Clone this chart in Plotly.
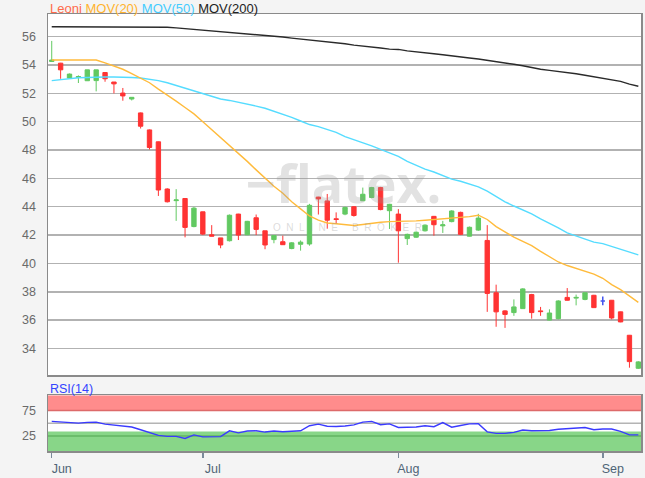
import plotly.graph_objects as go
import pandas as pd

# ---------------- data ----------------
dates = [d.strftime("%Y-%m-%d") for d in pd.bdate_range("2018-06-07", "2018-09-07")]

open_ = [54.25, 54.13, 53.08, 53.12, 52.89, 52.90, 53.47, 52.80, 52.02, 51.60,
         50.62, 49.42, 48.58, 45.25, 44.43, 44.58, 42.60, 43.64, 42.02, 41.80,
         41.60, 43.48, 42.02, 43.22, 42.30, 41.68, 41.53, 41.05, 41.35, 41.37,
         44.68, 44.41, 43.15, 43.48, 44.00, 44.42, 44.65, 45.35, 43.72, 43.48,
         41.75, 41.85, 42.30, 43.32, 42.65, 42.95, 43.60, 41.92, 42.35, 41.62,
         37.93, 36.65, 36.53, 36.81, 37.80, 36.65, 36.00, 36.10, 37.60, 37.55,
         37.46, 37.75, 37.35, 37.40, 36.58, 34.93, 32.60]
high = [55.70, 54.15, 53.40, 53.27, 53.66, 53.66, 53.50, 52.80, 52.38, 51.72,
        50.65, 49.45, 48.60, 45.30, 45.24, 44.60, 43.99, 43.65, 42.70, 41.80,
        43.45, 43.50, 43.00, 43.45, 42.30, 42.00, 41.96, 41.50, 41.62, 44.20,
        44.70, 44.90, 43.60, 44.00, 44.05, 45.35, 45.40, 45.40, 44.20, 43.83,
        42.10, 42.25, 42.75, 43.35, 43.00, 43.75, 43.65, 42.60, 43.50, 42.70,
        38.50, 36.70, 37.46, 38.25, 37.85, 36.93, 36.76, 37.40, 38.26, 37.80,
        37.95, 37.78, 37.67, 37.42, 36.60, 34.95, 33.10]
low = [54.25, 53.03, 53.03, 52.73, 52.89, 52.14, 52.82, 52.00, 51.48, 51.50,
       49.52, 48.04, 44.76, 44.30, 43.00, 41.84, 42.55, 42.00, 41.90, 41.07,
       41.55, 41.65, 42.00, 42.00, 41.00, 41.42, 41.30, 41.00, 40.90, 41.25,
       43.45, 42.45, 42.80, 43.40, 43.30, 44.40, 44.60, 43.75, 42.43, 40.05,
       41.30, 41.80, 42.25, 41.96, 42.15, 42.90, 42.00, 41.90, 42.30, 36.58,
       35.53, 35.45, 36.30, 36.80, 36.10, 36.30, 35.98, 36.05, 37.38, 37.04,
       37.40, 36.85, 37.04, 36.05, 35.85, 32.64, 32.55]
close = [54.35, 53.66, 53.36, 53.18, 53.66, 53.66, 53.03, 52.67, 51.82, 51.72,
         49.68, 48.18, 45.18, 44.35, 44.48, 42.54, 43.90, 42.07, 41.92, 41.30,
         43.40, 42.00, 42.97, 42.40, 41.30, 41.97, 41.32, 41.45, 41.50, 44.10,
         44.55, 43.05, 43.10, 43.95, 43.38, 44.88, 45.35, 43.80, 44.17, 42.30,
         42.05, 42.20, 42.70, 42.73, 42.72, 43.70, 42.05, 42.55, 43.20, 37.88,
         36.58, 36.40, 36.93, 38.20, 36.53, 36.60, 36.50, 37.35, 37.40, 37.60,
         37.93, 36.88, 37.35, 36.15, 35.87, 33.07, 33.05]

mov20 = [54.35, 54.35, 54.35, 54.35, 54.35, 54.35, 54.15, 53.95, 53.70, 53.40,
         53.10, 52.75, 52.30, 51.90, 51.45, 51.00, 50.55, 50.00, 49.45, 48.85,
         48.30, 47.75, 47.20, 46.60, 46.00, 45.45, 44.95, 44.35, 43.85, 43.35,
         43.05, 42.85, 42.80, 42.75, 42.68, 42.75, 42.85, 42.90, 42.95, 42.95,
         43.00, 43.00, 43.05, 43.10, 43.12, 43.15, 43.20, 43.30, 43.40, 43.10,
         42.60, 42.20, 41.85, 41.55, 41.25, 40.85, 40.50, 40.10, 39.85, 39.65,
         39.50, 39.25, 38.95, 38.50, 38.15, 37.70, 37.25]
mov50 = [52.90, 52.98, 53.05, 53.10, 53.12, 53.15, 53.15, 53.15, 53.15, 53.12,
         53.08, 53.00, 52.90, 52.75, 52.55, 52.35, 52.15, 51.95, 51.78, 51.60,
         51.50, 51.38, 51.25, 51.10, 50.95, 50.75, 50.50, 50.30, 50.05, 49.80,
         49.65, 49.45, 49.25, 48.95, 48.75, 48.55, 48.30, 48.05, 47.80, 47.55,
         47.20, 46.90, 46.65, 46.45, 46.20, 45.95, 45.80, 45.60, 45.40, 45.10,
         44.70, 44.35, 44.05, 43.80, 43.50, 43.15, 42.85, 42.50, 42.15, 41.95,
         41.75, 41.50, 41.40, 41.20, 41.05, 40.85, 40.60]
mov200 = [56.70, 56.70, 56.70, 56.70, 56.70, 56.70, 56.70, 56.70, 56.70, 56.70,
          56.70, 56.70, 56.70, 56.66, 56.62, 56.57, 56.50, 56.46, 56.42, 56.36,
          56.30, 56.26, 56.22, 56.14, 56.08, 56.03, 55.98, 55.90, 55.84, 55.76,
          55.70, 55.64, 55.57, 55.50, 55.40, 55.35, 55.30, 55.20, 55.12, 55.10,
          55.00, 54.95, 54.88, 54.80, 54.72, 54.66, 54.60, 54.50, 54.42, 54.34,
          54.25, 54.15, 54.05, 53.95, 53.82, 53.70, 53.62, 53.55, 53.47, 53.38,
          53.28, 53.18, 53.08, 52.95, 52.85, 52.65, 52.50]
rsi14 = [53.5, 52.0, 51.0, 50.0, 51.5, 52.0, 48.0, 46.0, 44.0, 42.5,
         37.0, 31.0, 26.0, 24.0, 24.0, 20.0, 27.0, 23.0, 23.0, 23.5,
         35.0, 31.0, 34.5, 35.0, 32.5, 34.5, 33.0, 33.5, 35.0, 45.0,
         48.0, 44.0, 43.5, 44.5, 46.5, 52.0, 53.5, 47.0, 48.5, 41.5,
         41.5, 42.5, 45.0, 43.0, 51.0, 42.0, 45.5, 48.5, 49.0, 33.0,
         30.0, 30.0, 32.0, 36.5, 35.0, 35.0, 35.5, 38.0, 39.0, 39.5,
         41.5, 37.0, 38.5, 38.5, 34.0, 27.0, 27.0]

month_ticks = ["2018-06-07", "2018-07-02", "2018-08-01", "2018-09-03"]
month_labels = ["Jun", "Jul", "Aug", "Sep"]
price_ticks = [34, 36, 38, 40, 42, 44, 46, 48, 50, 52, 54, 56]
rsi_ticks = [25, 75]

# ---------------- styles ----------------
FONT = "Liberation Sans, Arial, sans-serif"
GREEN = "#62c962"
RED = "#ff3333"
BLUE = "#4455ee"

flat_idx = [i for i in range(len(dates)) if open_[i] == close[i]]
move_idx = [i for i in range(len(dates)) if open_[i] != close[i]]

def pick(arr, idx):
    return [arr[i] for i in idx]

fig = go.Figure()

# moving averages
fig.add_trace(go.Scatter(x=dates, y=mov200, mode="lines", line=dict(color="#2a2a2a", width=1.4),
                         xaxis="x", yaxis="y", hoverinfo="skip"))
fig.add_trace(go.Scatter(x=dates, y=mov50, mode="lines", line=dict(color="#55dcff", width=1.4),
                         xaxis="x", yaxis="y", hoverinfo="skip"))
fig.add_trace(go.Scatter(x=dates, y=mov20, mode="lines", line=dict(color="#ffbb3c", width=1.4),
                         xaxis="x", yaxis="y", hoverinfo="skip"))

# candles
fig.add_trace(go.Candlestick(
    x=pick(dates, move_idx), open=pick(open_, move_idx), high=pick(high, move_idx),
    low=pick(low, move_idx), close=pick(close, move_idx),
    increasing=dict(line=dict(color=GREEN, width=1), fillcolor=GREEN),
    decreasing=dict(line=dict(color=RED, width=1), fillcolor=RED),
    whiskerwidth=0, xaxis="x", yaxis="y"))
fig.add_trace(go.Candlestick(
    x=pick(dates, flat_idx), open=pick(open_, flat_idx), high=pick(high, flat_idx),
    low=pick(low, flat_idx), close=pick(close, flat_idx),
    increasing=dict(line=dict(color=BLUE, width=1.5), fillcolor=BLUE),
    decreasing=dict(line=dict(color=BLUE, width=1.5), fillcolor=BLUE),
    whiskerwidth=0, xaxis="x", yaxis="y"))

# RSI
fig.add_trace(go.Scatter(x=dates, y=rsi14, mode="lines", line=dict(color="#3a3aff", width=1.4),
                         xaxis="x2", yaxis="y2", hoverinfo="skip"))

shapes = [
    dict(type="rect", xref="x2 domain", yref="y2", x0=0, x1=1, y0=74.5, y1=104.7,
         fillcolor="#ff8c8c", line=dict(width=0), layer="below"),
    dict(type="rect", xref="x2 domain", yref="y2", x0=0, x1=1, y0=-4.6, y1=33.7,
         fillcolor="#88d688", line=dict(width=0), layer="below"),
    dict(type="line", xref="x2 domain", yref="y2", x0=0, x1=1, y0=75, y1=75,
         line=dict(color="#dd6a6a", width=1.5), layer="below"),
    dict(type="line", xref="x2 domain", yref="y2", x0=0, x1=1, y0=25, y1=25,
         line=dict(color="#62b462", width=1.5), layer="below"),
    dict(type="line", xref="x2 domain", yref="y2", x0=0, x1=1, y0=50, y1=50,
         line=dict(color="#b4b4b4", width=1.5), layer="below"),
]

annotations = [
    dict(xref="paper", yref="paper", x=0, y=1.0137, xanchor="left", yanchor="middle",
         showarrow=False, font=dict(family=FONT, size=13),
         text="<span style='color:#ff6a4a'>Leoni</span> "
              "<span style='color:#ffb32e'>MOV(20)</span> "
              "<span style='color:#44ccff'>MOV(50)</span> "
              "<span style='color:#222222'>MOV(200)</span>"),
    dict(xref="paper", yref="paper", x=0, y=0.142, xanchor="left", yanchor="middle",
         showarrow=False, font=dict(family=FONT, size=12.5, color="#3344ff"), text="RSI(14)"),
    dict(xref="paper", yref="paper", x=0.499, y=0.614, xanchor="center", yanchor="middle",
         showarrow=False, font=dict(family="Open Sans, sans-serif", size=52, color="rgba(150,150,150,0.28)", weight="bold"),
         text="\u2212flatex."),
    dict(xref="paper", yref="paper", x=0.505, y=0.512, xanchor="center", yanchor="middle",
         showarrow=False, font=dict(family=FONT, size=10, color="rgba(150,150,150,0.35)"),
         text="O\u00a0\u00a0N\u00a0\u00a0L\u00a0\u00a0I\u00a0\u00a0N\u00a0\u00a0E\u00a0\u00a0\u00a0\u00a0\u00a0B\u00a0\u00a0R\u00a0\u00a0O\u00a0\u00a0K\u00a0\u00a0E\u00a0\u00a0R"),
]

fig.update_layout(
    width=645, height=478,
    margin=dict(l=48, r=2, t=14, b=25),
    paper_bgcolor="#f4f4f4", plot_bgcolor="#ffffff",
    showlegend=False,
    font=dict(family=FONT, size=12, color="#666666"),
    shapes=shapes, annotations=annotations,
    xaxis=dict(type="category", domain=[0, 1], anchor="y", range=[-0.42, 66.3],
               showticklabels=False, showgrid=False, rangeslider=dict(visible=False),
               showline=True, mirror=True, linecolor="#8a8a8a", linewidth=1.5,
               zeroline=False),
    yaxis=dict(domain=[0.1731, 1], anchor="x", range=[32.1, 57.6], tickvals=price_ticks,
               showgrid=True, gridcolor="#b2b2b2", gridwidth=1.5, zeroline=False,
               showline=True, mirror=True, linecolor="#8a8a8a", linewidth=1.5,
               ticks="", ticklabelstandoff=8, tickfont=dict(size=12.5, color="#6a6a6a")),
    xaxis2=dict(type="category", domain=[0, 1], anchor="y2", matches="x",
                tickvals=month_ticks, ticktext=month_labels, ticks="outside", ticklen=5,
                tickcolor="#7a8a9a", tickwidth=1.5, ticklabelshift=10,
                tickfont=dict(size=12.5, color="#4f6477"), showgrid=False,
                showline=True, mirror=True, linecolor="#8a8a8a", linewidth=1.5,
                rangeslider=dict(visible=False), zeroline=False),
    yaxis2=dict(domain=[0, 0.1276], anchor="x2", range=[-4.6, 104.7], tickvals=rsi_ticks,
                showgrid=False, zeroline=False,
                showline=True, mirror=True, linecolor="#8a8a8a", linewidth=1.5,
                ticks="", ticklabelstandoff=8, tickfont=dict(size=12.5, color="#6a6a6a")),
)

fig.write_html("out.html",
               config={"displayModeBar": False, "staticPlot": True},
               post_script="document.body.style.margin='0';document.body.style.overflow='hidden';")
